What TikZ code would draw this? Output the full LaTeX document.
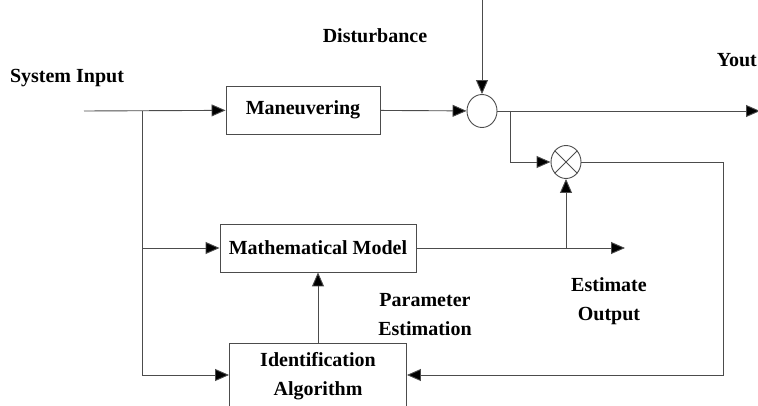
\documentclass[tikz,border=0pt]{standalone}
\usepackage{fontspec}
\setmainfont{Liberation Serif}
\usetikzlibrary{arrows.meta,shapes.geometric}

\begin{document}
\begin{tikzpicture}[x={(1pt,0pt)},y={(0pt,-1pt)},
  line/.style={draw=black!70,line width=0.9pt},
  arr/.style={line,-{Triangle[length=14pt,width=12pt,fill=black]}},
  blk/.style={draw=black!70,line width=0.9pt,inner sep=0pt,align=center,font=\bfseries\fontsize{20}{29}\selectfont},
  lbl/.style={inner sep=0pt,align=center,font=\bfseries\fontsize{20}{29}\selectfont},
  jn/.style={ellipse,draw=black!70,line width=0.9pt,minimum width=30pt,minimum height=33pt,inner sep=0pt}]
  \useasboundingbox (0,0) rectangle (758,406);
  \clip (0,0) rectangle (758,406);
  % blocks
  \node[blk,minimum width=154pt,minimum height=48pt] (man) at (303,110) {Maneuvering};
  \node[blk,minimum width=196pt,minimum height=48pt] (mod) at (318,248) {Mathematical Model};
  \node[blk,minimum width=177pt,minimum height=66pt] (idf) at (318,376) {Identification\\Algorithm};
  \node[jn] (sum) at (482,111) {};
  \node[jn] (mul) at (566,162) {};
  \draw[line] (mul.45)--(mul.225) (mul.135)--(mul.-45);
  % labels
  \node[lbl,anchor=base] (sin) at (67,83) {System Input};
  \node[lbl,anchor=base] (dis) at (375,42.5) {Disturbance};
  \node[lbl,anchor=base east] (yo) at (757,66.5) {Yout};
  \node[lbl] (par) at (425,315) {Parameter\\Estimation};
  \node[lbl] (eso) at (609,301) {Estimate\\Output};
  % points
  \coordinate (in) at (84,111);
  \coordinate (tk1) at (142,111);
  \coordinate (tk2) at (142,375);
  \coordinate (dtop) at (482,0);
  \coordinate (out) at (760,111);
  \coordinate (tap) at (510,111);
  \coordinate (est) at (625,248);
  \coordinate (tap2) at (566,248);
  \coordinate (fb) at (723,375);
  % connectors
  \draw[arr] (in) -- (man);
  \draw[line] (tk1) -- (tk2);
  \draw[arr] (tk1 |- mod) -- (mod);
  \draw[arr] (tk2) -- (tk2 -| idf.west);
  \draw[arr] (idf) -- (mod);
  \draw[arr] (man) -- (sum);
  \draw[arr] (dtop) -- (sum);
  \draw[arr] (sum) -- (out);
  \draw[arr] (tap) |- (mul);
  \draw[arr] (mod) -- (est);
  \draw[arr] (tap2) -- (mul);
  \draw[arr] (mul) -| (fb) -- (fb -| idf.east);
\end{tikzpicture}
\end{document}
